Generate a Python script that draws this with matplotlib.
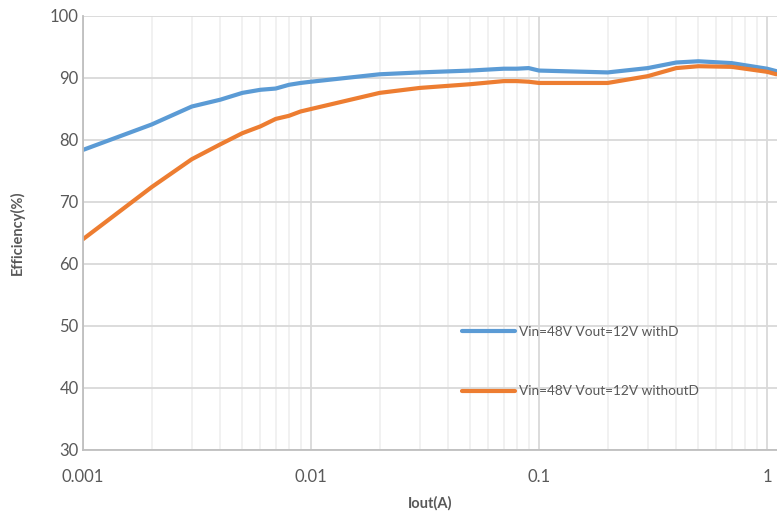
import matplotlib
matplotlib.use("Agg")
import matplotlib.pyplot as plt
from matplotlib.ticker import LogLocator, FixedLocator, NullFormatter

iout = [0.001, 0.002, 0.003, 0.004, 0.005, 0.006, 0.007, 0.008, 0.009, 0.01,
        0.02, 0.03, 0.05, 0.07, 0.08, 0.09, 0.1, 0.2, 0.3, 0.4, 0.5, 0.7, 1.0, 1.1]
eff_withD = [78.4, 82.5, 85.4, 86.5, 87.6, 88.1, 88.3, 88.9, 89.2, 89.4,
             90.6, 90.9, 91.2, 91.5, 91.5, 91.6, 91.2, 90.9, 91.6, 92.5, 92.7, 92.4, 91.5, 91.1]
eff_withoutD = [64.0, 72.4, 76.9, 79.3, 81.1, 82.2, 83.4, 83.9, 84.6, 85.0,
                87.6, 88.4, 89.0, 89.5, 89.5, 89.4, 89.2, 89.2, 90.3, 91.6, 91.9, 91.8, 91.0, 90.6]
label_withD = "Vin=48V Vout=12V withD"
label_withoutD = "Vin=48V Vout=12V withoutD"
x_ticks = [0.001, 0.01, 0.1, 1]
x_ticklabels = ["0.001", "0.01", "0.1", "1"]
y_ticks = [30, 40, 50, 60, 70, 80, 90, 100]

plt.rcParams['font.family'] = ['Lato', 'DejaVu Sans']

fig = plt.figure(figsize=(7.77, 5.13), dpi=100)
ax = fig.add_axes([83/777, 1-450/513, 1-83/777, (450-16)/513])

ax.plot(iout, eff_withD, color="#5b9bd5", lw=3, label=label_withD, solid_capstyle='round')
ax.plot(iout, eff_withoutD, color="#ed7d31", lw=3, label=label_withoutD, solid_capstyle='round')

ax.set_xscale('log')
ax.set_xlim(0.001, 1.106)
ax.set_ylim(30, 100)
ax.xaxis.set_major_locator(FixedLocator(x_ticks))
ax.set_xticklabels(x_ticklabels)
ax.xaxis.set_minor_locator(LogLocator(base=10, subs=range(2, 10)))
ax.xaxis.set_minor_formatter(NullFormatter())
ax.set_yticks(y_ticks)

ax.grid(True, which='major', color="#d9d9d9", lw=1.3)
ax.grid(True, which='minor', axis='x', color="#f0f0f0", lw=1.3)
ax.set_axisbelow(True)

for s in ['top', 'right']:
    ax.spines[s].set_visible(False)
for s in ['left', 'bottom']:
    ax.spines[s].set_color("#bfbfbf")
    ax.spines[s].set_linewidth(1.3)

ax.tick_params(which='both', length=0, labelsize=12, labelcolor="#595959")
ax.tick_params(axis='x', pad=14)
ax.tick_params(axis='y', pad=3)

ax.set_xlabel("Iout(A)", fontsize=10.5, fontweight='bold', color="#595959", labelpad=8)
ax.set_ylabel("Efficiency(%)", fontsize=10.5, fontweight='bold', color="#595959")
ax.yaxis.set_label_coords((25 - 83) / 694, 0.5)

leg = ax.legend(loc='center left', bbox_to_anchor=((462-83)/694, (450-361.5)/434),
                frameon=False, fontsize=9.8, handlelength=3.9, handletextpad=0.3,
                labelspacing=3.5, borderpad=0, borderaxespad=0)
for t in leg.get_texts():
    t.set_color("#595959")

fig.savefig("out.png", dpi=100)
